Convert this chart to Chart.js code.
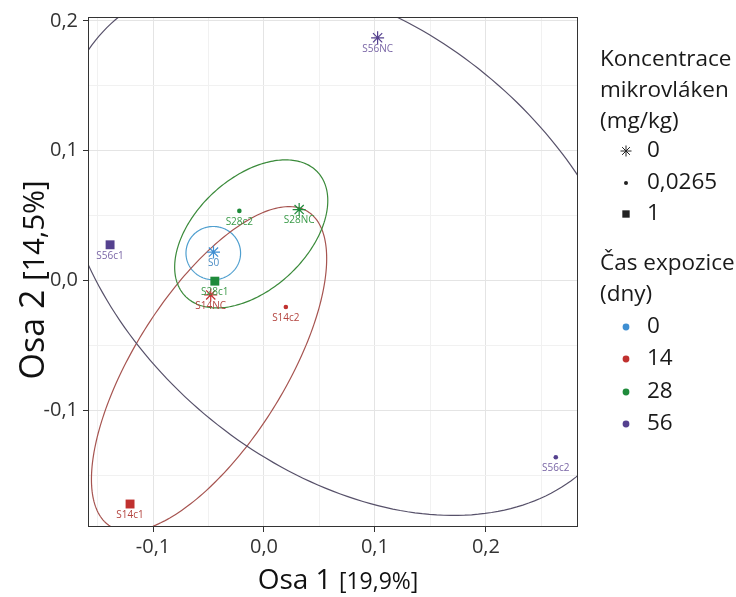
<!DOCTYPE html>
<html>
<head>
<meta charset="utf-8">
<script src="https://cdn.jsdelivr.net/npm/chart.js@4.4.1/dist/chart.umd.min.js"></script>
<style>
    html, body { margin: 0; padding: 0; background: #fff; }
    #wrap { width: 736px; height: 597px; }
</style>
</head>
<body>
<div id="wrap"><canvas id="pcaChart" width="736" height="597"></canvas></div>
<script>
const sampleNames = ["S0", "S14NC", "S14c1", "S14c2", "S28NC", "S28c1", "S28c2", "S56NC", "S56c1", "S56c2"];
const osa1Values = [-0.0455, -0.048, -0.1207, 0.0197, 0.0317, -0.0443, -0.0222, 0.1024, -0.1387, 0.263];
const osa2Values = [0.022, -0.011, -0.172, -0.0203, 0.0547, -0.0004, 0.0537, 0.187, 0.0276, -0.136];
const sampleConcentration = ["0", "0", "1", "0,0265", "0", "1", "0,0265", "0", "1", "0,0265"];
const sampleDays = ["0", "14", "14", "14", "28", "28", "28", "56", "56", "56"];

const concentrationLabels = ["0", "0,0265", "1"];
const concentrationShapes = ["star", "circle", "rect"];
const concentrationRadius = [6.5, 2.3, 6.3];

const dayLabels = ["0", "14", "28", "56"];
const dayColors = ["#3f8fd2", "#c0312f", "#1f8b3b", "#55418f"];
const dayTextColors = ["#4a8cc4", "#b3443f", "#3a9a48", "#7a66a6"];
const dayEllipseColors = ["#4f9fcf", "#a65450", "#3a8a3a", "#57516a"];

// ellipse per exposure group: centre, spread along each axis, correlation
const ellipseCenterX = [-0.0457, -0.0495, -0.0115, 0.0756];
const ellipseCenterY = [0.0212, -0.068, 0.036, 0.0262];
const ellipseSpreadX = [0.0246, 0.106, 0.069, 0.259];
const ellipseSpreadY = [0.0205, 0.125, 0.057, 0.207];
const ellipseCorr = [0, 0.68, 0.45, -0.367];

const xRange = [-0.1586, 0.283];
const yRange = [-0.1897, 0.203];

const FONT = '"Open Sans", "DejaVu Sans", sans-serif';

function isMajor(value) {
    return Math.abs(Math.round(value * 20)) % 2 === 0;
}

function formatTick(value) {
    if (!isMajor(value)) return "";
    return (Math.round(value * 10) / 10).toFixed(1).replace(".", ",");
}

function shapeIndex(conc) {
    return concentrationLabels.indexOf(conc);
}

const datasets = dayLabels.map((day, di) => {
    const idx = sampleNames.map((_, i) => i).filter((i) => sampleDays[i] === day);
    return {
        label: day,
        data: idx.map((i) => ({ x: osa1Values[i], y: osa2Values[i] })),
        pointStyle: idx.map((i) => concentrationShapes[shapeIndex(sampleConcentration[i])]),
        pointRadius: idx.map((i) => concentrationRadius[shapeIndex(sampleConcentration[i])]),
        pointBorderWidth: idx.map((i) => (sampleConcentration[i] === "0" ? 1.2 : 0)),
        backgroundColor: dayColors[di],
        borderColor: dayColors[di]
    };
});

const ellipsePlugin = {
    id: "ellipses",
    beforeDatasetsDraw(chart) {
        const { ctx, chartArea, scales } = chart;
        ctx.save();
        ctx.beginPath();
        ctx.rect(chartArea.left, chartArea.top, chartArea.width, chartArea.height);
        ctx.clip();
        ellipseCenterX.forEach((cx, i) => {
            const cy = ellipseCenterY[i];
            const sx = ellipseSpreadX[i];
            const sy = ellipseSpreadY[i];
            const r = ellipseCorr[i];
            const q = Math.sqrt(1 - r * r);
            ctx.beginPath();
            for (let k = 0; k <= 240; k++) {
                const t = (k / 240) * Math.PI * 2;
                const px = scales.x.getPixelForValue(cx + sx * Math.cos(t));
                const py = scales.y.getPixelForValue(cy + sy * (r * Math.cos(t) + q * Math.sin(t)));
                if (k === 0) ctx.moveTo(px, py);
                else ctx.lineTo(px, py);
            }
            ctx.strokeStyle = dayEllipseColors[i];
            ctx.lineWidth = 1.2;
            ctx.stroke();
        });
        ctx.restore();
    }
};

const labelPlugin = {
    id: "pointLabels",
    afterDatasetsDraw(chart) {
        const { ctx, scales } = chart;
        ctx.save();
        ctx.font = "10px " + FONT;
        ctx.textAlign = "center";
        ctx.textBaseline = "middle";
        sampleNames.forEach((name, i) => {
            const di = dayLabels.indexOf(sampleDays[i]);
            ctx.fillStyle = dayTextColors[di];
            const px = scales.x.getPixelForValue(osa1Values[i]);
            const py = scales.y.getPixelForValue(osa2Values[i]);
            ctx.fillText(name, px, py + 11);
        });
        ctx.restore();
    }
};

function drawMixedText(ctx, parts, cx, baseline) {
    const widths = parts.map((p) => {
        ctx.font = p.size + "px " + FONT;
        return ctx.measureText(p.text).width;
    });
    const total = widths.reduce((a, b) => a + b, 0);
    let x = cx - total / 2;
    ctx.textAlign = "left";
    ctx.textBaseline = "alphabetic";
    parts.forEach((p, i) => {
        ctx.font = p.size + "px " + FONT;
        ctx.fillText(p.text, x, baseline);
        x += widths[i];
    });
}

const framePlugin = {
    id: "frame",
    afterDraw(chart) {
        const { ctx, chartArea } = chart;
        ctx.save();
        ctx.strokeStyle = "#333333";
        ctx.lineWidth = 1;
        ctx.strokeRect(chartArea.left + 0.5, chartArea.top + 0.5, chartArea.width - 1, chartArea.height - 1);

        // axis titles
        ctx.fillStyle = "#111111";
        drawMixedText(ctx, [{ text: "Osa 1 ", size: 28 }, { text: "[19,9%]", size: 23 }], 338, 589);
        ctx.translate(44, 280);
        ctx.rotate(-Math.PI / 2);
        drawMixedText(ctx, [{ text: "Osa 2 ", size: 34 }, { text: "[14,5%]", size: 29 }], 0, 0);
        ctx.restore();
    }
};

const legendPlugin = {
    id: "sideLegend",
    afterDraw(chart) {
        const ctx = chart.ctx;
        const titleX = 600;
        const symX = 626;
        const textX = 647;
        ctx.save();
        ctx.font = "22.5px " + FONT;
        ctx.fillStyle = "#1a1a1a";
        ctx.textAlign = "left";
        ctx.textBaseline = "middle";

        const concTitle = ["Koncentrace", "mikrovláken", "(mg/kg)"];
        const concTitleY = [60, 91, 122];
        const concItemY = [151, 183, 214];
        concTitle.forEach((t, i) => ctx.fillText(t, titleX, concTitleY[i]));
        concentrationLabels.forEach((lab, i) => {
            ctx.fillStyle = "#1a1a1a";
            ctx.fillText(lab, textX, concItemY[i]);
            ctx.fillStyle = "#222";
            ctx.strokeStyle = "#222";
            Chart.helpers.drawPoint(ctx, {
                pointStyle: concentrationShapes[i],
                radius: [5.5, 2, 5.2][i],
                borderWidth: i === 0 ? 1.2 : 0,
                rotation: 0
            }, symX, concItemY[i]);
        });

        const dayTitle = ["Čas expozice", "(dny)"];
        const dayTitleY = [264, 295];
        const dayItemY = [327, 359, 392, 424];
        ctx.fillStyle = "#1a1a1a";
        dayTitle.forEach((t, i) => ctx.fillText(t, titleX, dayTitleY[i]));
        dayLabels.forEach((lab, i) => {
            ctx.fillStyle = "#1a1a1a";
            ctx.fillText(lab, textX, dayItemY[i]);
            ctx.fillStyle = dayColors[i];
            ctx.beginPath();
            ctx.arc(symX, dayItemY[i], 3.4, 0, Math.PI * 2);
            ctx.fill();
        });
        ctx.restore();
    }
};

const gridColor = (c) => (c.tick && isMajor(c.tick.value) ? "#e4e4e4" : "#f1f1f1");
const tickColor = (c) => (c.tick && isMajor(c.tick.value) ? "#333333" : "rgba(0,0,0,0)");

new Chart(document.getElementById("pcaChart"), {
    type: "scatter",
    data: { datasets },
    plugins: [ellipsePlugin, labelPlugin, framePlugin, legendPlugin],
    options: {
        responsive: false,
        animation: false,
        devicePixelRatio: 1,
        layout: { padding: { left: 0, right: 158, top: 13, bottom: 0 } },
        plugins: {
            legend: { display: false },
            tooltip: { enabled: false }
        },
        scales: {
            x: {
                type: "linear",
                min: xRange[0],
                max: xRange[1],
                afterFit(scale) { scale.height = 70; },
                border: { display: false },
                grid: { color: gridColor, tickColor: tickColor, tickLength: 5, lineWidth: 1 },
                ticks: {
                    stepSize: 0.05,
                    includeBounds: false,
                    autoSkip: false,
                    maxRotation: 0,
                    padding: 3,
                    color: "#333333",
                    font: { family: FONT, size: 20 },
                    callback: formatTick
                }
            },
            y: {
                type: "linear",
                min: yRange[0],
                max: yRange[1],
                afterFit(scale) { scale.width = 88; },
                border: { display: false },
                grid: { color: gridColor, tickColor: tickColor, tickLength: 5, lineWidth: 1 },
                ticks: {
                    stepSize: 0.05,
                    includeBounds: false,
                    autoSkip: false,
                    padding: 5,
                    color: "#333333",
                    font: { family: FONT, size: 20 },
                    callback: formatTick
                }
            }
        }
    }
});
</script>
</body>
</html>
